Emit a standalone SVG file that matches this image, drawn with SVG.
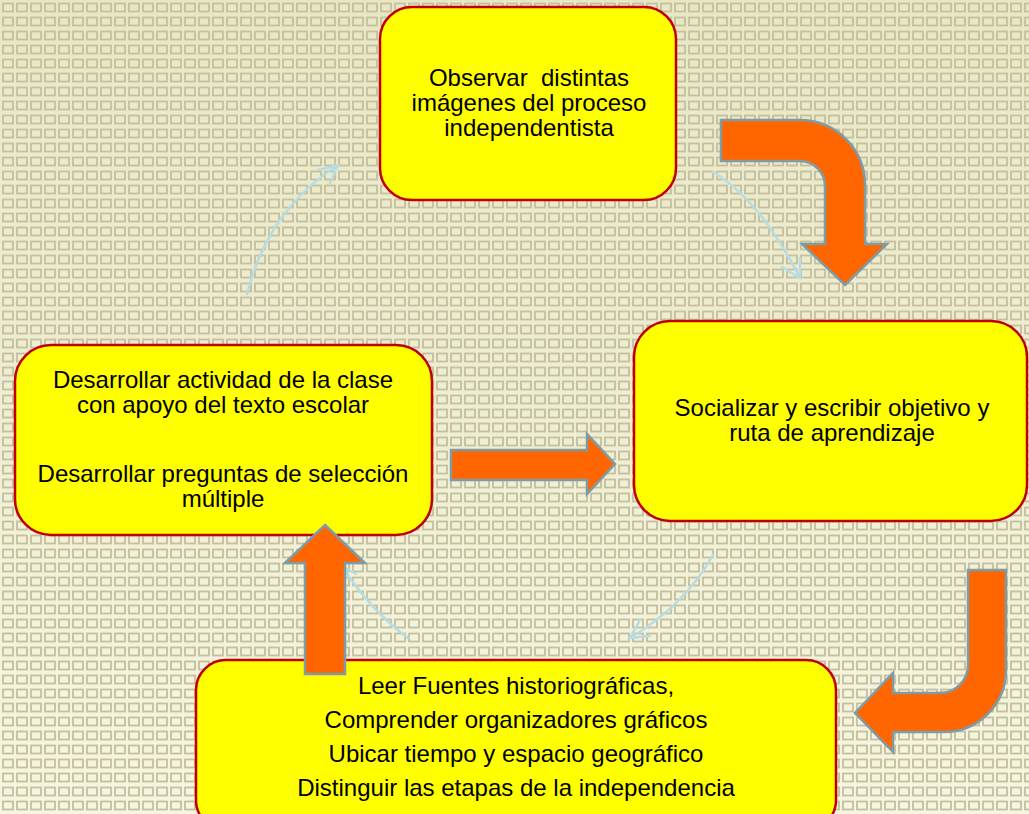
<svg xmlns="http://www.w3.org/2000/svg" width="1029" height="814" viewBox="0 0 1029 814">
<defs>
<linearGradient id="bg" x1="0" y1="0" x2="0" y2="1">
<stop offset="0" stop-color="#e9e7c3"/>
<stop offset="1" stop-color="#f7f5df"/>
</linearGradient>
<pattern id="grid" x="0" y="0" width="14" height="14" patternUnits="userSpaceOnUse">
<rect x="3" y="3.5" width="10" height="8" fill="none" stroke="#c2c0a0" stroke-width="1.8"/>
</pattern>
<style>
.box{fill:#ffff00;stroke:#c00000;stroke-width:2.5}
.txt{font-family:"Liberation Sans",Arial,sans-serif;font-size:24px;fill:#000;text-anchor:middle}
.big{fill:#ff6600;stroke:#7f9ca6;stroke-width:2.5;stroke-linejoin:miter}
.thin{fill:none;stroke:#b6dde5;stroke-width:2.5;stroke-linecap:round}
</style>
</defs>
<rect width="1029" height="814" fill="url(#bg)"/>
<rect width="1029" height="814" fill="url(#grid)"/>

<g id="connectors">
<path class="thin" d="M247,294 Q268,210 338,165 M318,170 L338,165 L330,183"/>
<path class="thin" d="M713,172 Q760,200 800,278 M782,267 L800,278 L800,258"/>
<path class="thin" d="M713,555 Q685,605 630,638 M640,620 L630,638 L650,636"/>
<path class="thin" d="M408,638 Q370,610 342,566 M356,574 L342,566 L344,580"/>
<path class="big" d="M721,120 L800,120 A65,65 0 0 1 865,185 L865,244 L887,244 L845,285 L802,244 L825,244 L825,186 A25,25 0 0 0 800,161 L721,161 Z"/>
<path class="big" d="M968,570 L1006,570 L1006,670 A62,62 0 0 1 944,732 L893,732 L893,752 L855,713 L893,673 L893,693 L940,693 A28,28 0 0 0 968,665 Z"/>
<path class="big" d="M451,450 L587,450 L587,434 L615,464 L587,494 L587,480 L451,480 Z"/>
</g>

<g id="node-observar">
<rect class="box" x="380" y="7" width="296" height="193" rx="32"/>
<text class="txt" x="529" y="86">Observar&#160; distintas</text>
<text class="txt" x="529" y="111">imágenes del proceso</text>
<text class="txt" x="529" y="136">independentista</text>
</g>

<g id="node-socializar">
<rect class="box" x="634" y="321" width="393" height="200" rx="36"/>
<text class="txt" x="832" y="416">Socializar y escribir objetivo y</text>
<text class="txt" x="832" y="441">ruta de aprendizaje</text>
</g>

<g id="node-desarrollar">
<rect class="box" x="15" y="345" width="417" height="190" rx="36"/>
<text class="txt" x="223" y="388">Desarrollar actividad de la clase</text>
<text class="txt" x="223" y="413">con apoyo del texto escolar</text>
<text class="txt" x="223" y="482">Desarrollar preguntas de selección</text>
<text class="txt" x="223" y="507">múltiple</text>
</g>

<g id="node-leer">
<rect class="box" x="196" y="660" width="640" height="170" rx="30"/>
<text class="txt" x="516" y="694">Leer Fuentes historiográficas,</text>
<text class="txt" x="516" y="728">Comprender organizadores gráficos</text>
<text class="txt" x="516" y="762">Ubicar tiempo y espacio geográfico</text>
<text class="txt" x="516" y="796">Distinguir las etapas de la independencia</text>
</g>

<g id="connector-up">
<path class="big" d="M325,525 L365,563 L345,563 L345,674 L305,674 L305,563 L285,563 Z"/>
</g>
</svg>
